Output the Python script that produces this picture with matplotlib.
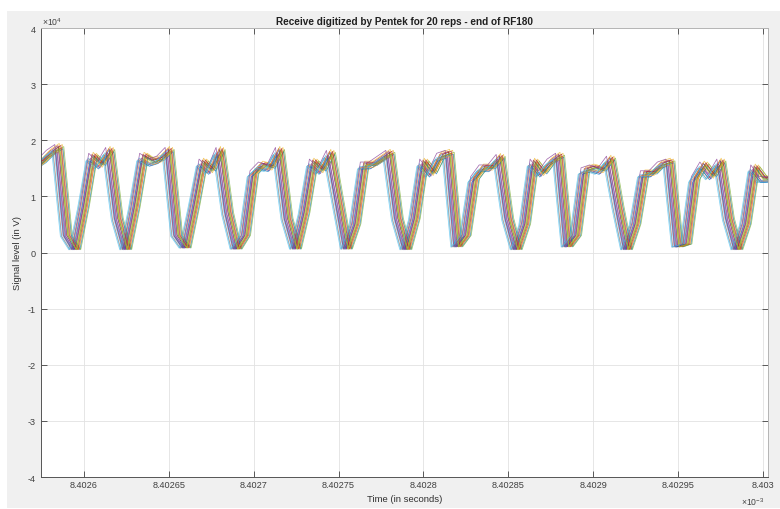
import matplotlib
matplotlib.use("Agg")
import matplotlib.pyplot as plt
from matplotlib.patches import Rectangle
import numpy as np

plt.rcParams['font.family'] = ['Liberation Sans', 'DejaVu Sans']
plt.rcParams['mathtext.fontset'] = 'custom'
plt.rcParams['mathtext.rm'] = 'Liberation Sans'

# ---- data ----
title = "Receive digitized by Pentek for 20 reps - end of RF180"
x_label = "Time (in seconds)"
y_label = "Signal level (in V)"

# time axis in units of 1e-3 s; ADC sample spacing 5 ns
t_start_ms = 8.4025697
sample_dt_ms = 5e-6

# base received waveform (one rep), in V
base_signal = [15000, 16000, 17500, 18500, 3000, 500, 8000, 17000, 15500, 18000, 6000,
               500, 8000, 17000, 16000, 16500, 18000, 3000, 800, 8000, 16000,
               14500, 18000, 7000, 600, 3000, 14000, 15500, 15000, 18000, 6000,
               600, 7000, 16000, 14500, 17500, 9000, 600, 5000, 15500, 15500,
               16500, 17500, 6000, 500, 6000, 16000, 14000, 17000, 17500, 1000,
               3000, 13000, 15000, 15000, 16800, 6000, 500, 5000, 16000, 14000,
               16000, 17000, 1000, 3000, 14500, 15000, 14500, 16500, 8000, 500,
               5000, 14000, 14000, 15500, 16000, 1000, 1500, 13000, 15500, 13500,
               16000, 6000, 500, 5000, 15000, 13000, 13000, 13500]

# per-rep timing jitter (ns) and gain
rep_offset_ns = [0.3, -2.9, 2.5, -0.8, 1.3, -3.6, 0.0, 2.9, -1.7, 0.7,
                 -0.4, 3.4, -2.2, 1.7, -1.2, 2.1, 1.0, -1.9, 0.9, -3.1]
rep_gain = [1.02, 0.97, 1.04, 0.99, 1.01, 0.96, 1.03, 1.00, 0.98, 1.05,
            0.97, 1.02, 0.99, 1.03, 0.96, 1.01, 0.98, 1.04, 1.00, 0.97]

x_ticks = [8.4026, 8.40265, 8.4027, 8.40275, 8.4028, 8.40285, 8.4029, 8.40295, 8.403]
x_tick_labels = ['8.4026', '8.40265', '8.4027', '8.40275', '8.4028', '8.40285',
                 '8.4029', '8.40295', '8.403']
y_ticks = [-40000, -30000, -20000, -10000, 0, 10000, 20000, 30000, 40000]
y_tick_labels = ['-4', '-3', '-2', '-1', '0', '1', '2', '3', '4']

matlab_colors = ['#0072BD', '#D95319', '#EDB120', '#7E2F8E', '#77AC30', '#4DBEEE', '#A2142F']

W, H = 780, 510
fig = plt.figure(figsize=(W / 100, H / 100), dpi=100, facecolor='white')
fig.patches.append(Rectangle((7 / W, 1 / H), 773 / W, 497 / H, transform=fig.transFigure,
                             facecolor='#f0f0f0', edgecolor='none', zorder=-10))

ax = fig.add_axes([41 / W, 32 / H, 727 / W, 449 / H])
ax.set_facecolor('white')

base = np.array(base_signal, dtype=float)
n = len(base)
for i, (off, g) in enumerate(zip(rep_offset_ns, rep_gain)):
    t = t_start_ms + (np.arange(n) * sample_dt_ms) + off * 1e-6
    ax.plot(t, base * g, color=matlab_colors[i % len(matlab_colors)], linewidth=0.55,
            alpha=0.7)

ax.set_xlim(8.40257468, 8.40300294)
ax.set_ylim(-40000, 40000)
ax.set_xticks(x_ticks)
ax.set_xticklabels(x_tick_labels)
ax.set_yticks(y_ticks)
ax.set_yticklabels(y_tick_labels)

ax.grid(True, color='#e2e2e2', linewidth=0.6)
ax.set_axisbelow(True)
ax.tick_params(direction='in', length=4, width=0.6, top=True, right=True,
               labelsize=6.6, labelcolor='#404040', color='#404040')
ax.tick_params(axis='x', pad=2.5)
ax.tick_params(axis='y', pad=4)
for side in ['left', 'bottom']:
    ax.spines[side].set_color('#555555')
    ax.spines[side].set_linewidth(0.7)
for side in ['top', 'right']:
    ax.spines[side].set_color('#b5b5b5')
    ax.spines[side].set_linewidth(0.7)

ax.set_title(title, fontsize=7.2, fontweight='bold', pad=3, color='#202020')
fig.text(405 / W, 1 - 500 / H, x_label, ha='center', va='center', fontsize=6.8, color='#303030')
fig.text(18 / W, 1 - 253 / H, y_label, ha='center', va='center', rotation=90,
         fontsize=6.8, color='#303030')
fig.text(42 / W, 1 - 22 / H, r'$\times10^{4}$', ha='left', va='center', fontsize=6.2,
         color='#404040')
fig.text(764 / W, 1 - 502 / H, r'$\times10^{-3}$', ha='right', va='center', fontsize=6.2,
         color='#404040')

fig.savefig('out.png', dpi=100, facecolor=fig.get_facecolor())
